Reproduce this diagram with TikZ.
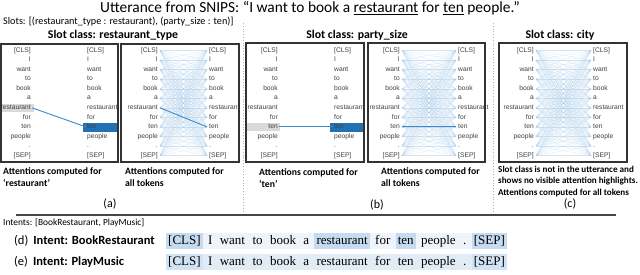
\documentclass[tikz,border=0pt]{standalone}
\usepackage{fontspec}
\setmainfont{Carlito}
\newfontfamily\tokfont{Liberation Sans}
\newfontfamily\serifrow{Liberation Serif}
\usetikzlibrary{backgrounds}
\definecolor{hlblue}{HTML}{2171B5}
\definecolor{attncol}{HTML}{9DC3E6}
\definecolor{strongcol}{HTML}{3C8AC9}
\definecolor{hlgray}{HTML}{D9D9D9}
\definecolor{rowdbg}{HTML}{EEF4FA}
\definecolor{rowdhi}{HTML}{C6DBEF}
\definecolor{rowebg}{HTML}{E1ECF7}
\definecolor{rowehi}{HTML}{D2E3F3}
\definecolor{tokgray}{HTML}{404040}
\definecolor{framecol}{HTML}{333333}
\tikzset{
  panel/.style={draw=framecol, line width=1.1pt},
  tokL/.style={anchor=east, inner xsep=1pt, inner ysep=0pt, text height=4.7pt, text depth=1.3pt, text=tokgray, font=\tokfont\fontsize{6.7}{7}\selectfont},
  tokR/.style={tokL, anchor=west},
  attn/.style={draw=attncol, line width=0.22pt, opacity=0.45},
  strongline/.style={draw=strongcol, line width=0.9pt},
  sep/.style={draw=gray!60, dotted, line width=0.8pt},
  capt/.style={anchor=north west, align=left, inner sep=0pt, font=\bfseries\fontsize{9.7}{12}\selectfont},
  subcap/.style={font=\fontsize{12}{13}\selectfont},
  slothead/.style={font=\bfseries\fontsize{11.8}{13}\selectfont},
  wtok/.style={anchor=west, inner xsep=2pt, inner ysep=1.5pt, text height=9pt, text depth=3pt, font=\serifrow\fontsize{13}{14}\selectfont},
  rowlab/.style={anchor=west, inner sep=0pt, font=\fontsize{12.5}{14}\selectfont},
}
\newcommand\mkpanel[3]{%
  \foreach \w [count=\i from 0] in {{[CLS]},I,want,to,book,a,restaurant,for,ten,people,.,{[SEP]}} {
    \node[tokL] (#1L\i) at (#2, 50.5+9.55*\i) {\w};
    \node[tokR] (#1R\i) at (#3, 50.5+9.55*\i) {\w};
  }}
\newcommand\allattn[1]{%
  \foreach \i in {0,...,11} {\foreach \j in {0,...,11} {\draw[attn] ([xshift=1pt]#1L\i.east) -- ([xshift=-1pt]#1R\j.west);}}}
\begin{document}
\begin{tikzpicture}[x=1pt,y=-1pt]
\useasboundingbox (0,0) rectangle (640,274);
% title and slots
\node[font=\fontsize{15.4}{17}\selectfont, inner sep=0pt] (title) at (310,8.5) {Utterance from SNIPS: “I want to book a \underline{restaurant} for \underline{ten} people.”};
\node[anchor=west, inner sep=0pt, font=\fontsize{10.2}{11}\selectfont] (slots) at (3,21.5) {Slots: [(restaurant\_type : restaurant), (party\_size : ten)]};
% separators
\draw[sep] (243,23) -- (243,213);
\draw[sep] (493,23) -- (493,213);
% slot headers
\node[slothead] (hA) at (113,35) {Slot class: restaurant\_type};
\node[slothead] (hC) at (357,35) {Slot class: party\_size};
\node[slothead] (hE) at (560,35) {Slot class: city};
% highlights
\fill[hlgray] (1,104) rectangle (34,111.5);
\fill[hlblue] (83,122.5) rectangle (118,131.5);
\fill[hlgray] (247,123) rectangle (280,131);
\fill[hlblue] (330,122.5) rectangle (364,131.5);
% panels
\mkpanel{A}{32}{86}
\mkpanel{B}{159}{208}
\mkpanel{C}{279}{333}
\mkpanel{D}{401}{457}
\mkpanel{E}{535}{592}
\draw[panel] (1,44) rectangle (118,162);
\draw[panel] (121,44) rectangle (239,162);
\draw[panel] (246,43) rectangle (364,162);
\draw[panel] (368,43) rectangle (485,162);
\draw[panel] (499,43) rectangle (627,162);
% attention lines
\allattn{B}
\allattn{D}
\allattn{E}
\draw[strongline] (AL6.east) -- (AR8.west);
\draw[strongline] ([xshift=1pt]BL6.east) -- ([xshift=-1pt]BR8.west);
\draw[strongline] (CL8.east) -- (CR8.west);
\draw[strongline] ([xshift=1pt]DL8.east) -- ([xshift=-1pt]DR8.west);
% captions
\node[capt] (cA) at (3,167) {Attentions computed for\\‘restaurant’};
\node[capt] (cB) at (125,167) {Attentions computed for\\all tokens};
\node[capt] (cC) at (259,168) {Attentions computed for\\‘ten’};
\node[capt] (cD) at (381,167) {Attentions computed for\\all tokens};
\node[capt, font=\bfseries\fontsize{9.1}{11.8}\selectfont] (cE) at (498,165.5) {Slot class is not in the utterance and\\shows no visible attention highlights.\\Attentions computed for all tokens};
\node[subcap] (la) at (110,204) {(a)};
\node[subcap] (lb) at (377,205) {(b)};
\node[subcap] (lc) at (570,204) {(c)};
% rule
\draw[draw=framecol!90, line width=1.2pt] (16,215) -- (616,215);
\node[anchor=west, inner sep=0pt, font=\fontsize{9.4}{10}\selectfont] (intents) at (3,223) {Intents: [BookRestaurant, PlayMusic]};
\node[rowlab] (ld) at (14,241) {(d)\hspace{5pt}\textbf{Intent: BookRestaurant}};
\node[rowlab] (le) at (14,262) {(e)\hspace{5pt}\textbf{Intent: PlayMusic}};
% token rows
\foreach \r/\yy in {d/241,e/262} {
  \foreach \w [count=\i from 0] in {{[CLS]},I,want,to,book,a,restaurant,for,ten,people,.,{[SEP]}} {
    \ifnum\i=0
      \node[wtok] (\r\i) at (166,\yy) {\w};
    \else
      \pgfmathtruncatemacro\p{\i-1}
      \node[wtok] (\r\i) at ([xshift=3pt]\r\p.east) {\w};
    \fi
  }
}
\begin{scope}[on background layer]
  \fill[rowdbg] (d0.north west) rectangle (d11.south east);
  \foreach \k in {0,6,8,11} {\fill[rowdhi] (d\k.north west) rectangle (d\k.south east);}
  \fill[rowebg] (e0.north west) rectangle (e11.south east);
  \foreach \k in {0,11} {\fill[rowehi] (e\k.north west) rectangle (e\k.south east);}
\end{scope}
\end{tikzpicture}
\end{document}
